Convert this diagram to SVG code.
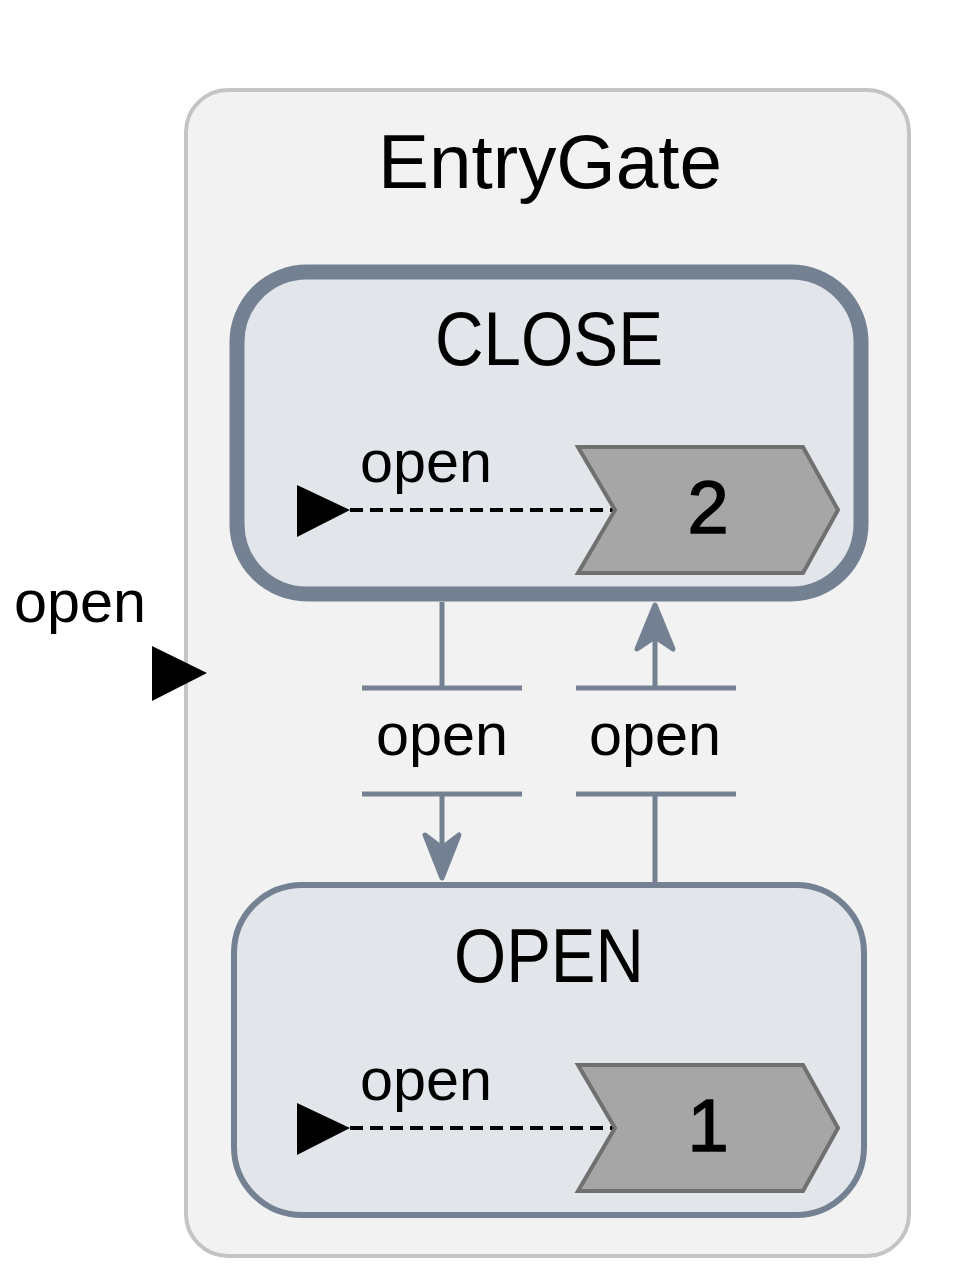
<svg xmlns="http://www.w3.org/2000/svg" width="960" height="1282" viewBox="0 0 960 1282">
<style>
text{font-family:"Liberation Sans",Arial,sans-serif;fill:#000}
.lbl{font-size:60px}
.ttl{font-size:76px;text-anchor:middle}
.num{font-size:74px;text-anchor:middle;stroke:#000;stroke-width:1.5}
.state{fill:#e2e6eb;stroke:#738193}
.chev{fill:#a6a6a6;stroke:#707070;stroke-width:4}
.edge{stroke:#738193;stroke-width:5;fill:none}
.ah{fill:#738193;stroke:#738193;stroke-width:5;stroke-linejoin:round}
.dash{stroke:#000;stroke-width:4;stroke-dasharray:13 7;fill:none}
</style>
<g id="EntryGate">
<rect x="186" y="90" width="723" height="1166" rx="42" fill="#f2f2f2" stroke="#c4c4c4" stroke-width="4"/>
<text class="ttl" x="550" y="188" textLength="344" lengthAdjust="spacingAndGlyphs">EntryGate</text>
</g>
<g id="entry-outer">
<text class="lbl" x="14" y="622" textLength="132" lengthAdjust="spacingAndGlyphs">open</text>
<polygon points="152,646 207,673 152,701" fill="#000"/>
</g>
<g id="CLOSE">
<rect class="state" x="237" y="272" width="624" height="322" rx="70" stroke-width="15"/>
<text class="ttl" x="549" y="365" textLength="228" lengthAdjust="spacingAndGlyphs">CLOSE</text>
<polygon points="297,485 350,510 297,537" fill="#000"/>
<line class="dash" x1="350" y1="510" x2="615" y2="510"/>
<text class="lbl" x="360" y="482" textLength="132" lengthAdjust="spacingAndGlyphs">open</text>
<polygon class="chev" points="578,447 803,447 838,510 803,573 578,573 615,510"/>
<text class="num" x="708" y="533">2</text>
</g>
<g id="OPEN">
<rect class="state" x="234" y="885" width="630" height="330" rx="68" stroke-width="6"/>
<text class="ttl" x="549" y="982" textLength="190" lengthAdjust="spacingAndGlyphs">OPEN</text>
<polygon points="297,1103 350,1128 297,1155" fill="#000"/>
<line class="dash" x1="350" y1="1128" x2="615" y2="1128"/>
<text class="lbl" x="360" y="1100" textLength="132" lengthAdjust="spacingAndGlyphs">open</text>
<polygon class="chev" points="578,1065 803,1065 838,1128 803,1191 578,1191 615,1128"/>
<text class="num" x="708" y="1151">1</text>
</g>
<g id="connectors">
<g id="edge-close-open">
<line class="edge" x1="442" y1="602" x2="442" y2="688"/>
<line class="edge" x1="362" y1="688" x2="522" y2="688"/>
<text class="lbl" x="376" y="755" textLength="132" lengthAdjust="spacingAndGlyphs">open</text>
<line class="edge" x1="362" y1="794" x2="522" y2="794"/>
<line class="edge" x1="442" y1="794" x2="442" y2="860"/>
<polygon class="ah" points="442,878 425,835 442,848 459,835"/>
</g>
<g id="edge-open-close">
<line class="edge" x1="655" y1="882" x2="655" y2="794"/>
<line class="edge" x1="576" y1="794" x2="736" y2="794"/>
<text class="lbl" x="589" y="755" textLength="132" lengthAdjust="spacingAndGlyphs">open</text>
<line class="edge" x1="576" y1="688" x2="736" y2="688"/>
<line class="edge" x1="655" y1="688" x2="655" y2="625"/>
<polygon class="ah" points="655,605 637,649 655,637 673,649"/>
</g>
</g>
</svg>
